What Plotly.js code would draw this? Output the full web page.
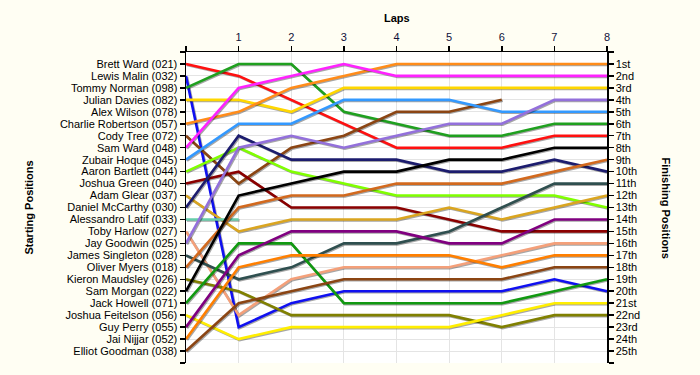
<!DOCTYPE html>
<html>
<head>
<meta charset="utf-8">
<script src="https://cdn.plot.ly/plotly-3.0.1.min.js"></script>
<style>
  html, body { margin: 0; padding: 0; background: #fffef3; }
  #chart { width: 700px; height: 375px; }
  .scatterlayer .trace path.js-line { filter: drop-shadow(1px 1.5px 0.6px rgba(0,0,0,0.35)); }
</style>
</head>
<body>
<div id="chart"></div>
<script>
// ---- Data ----
const laps = [0, 1, 2, 3, 4, 5, 6, 7, 8];

const startingGrid = [
  "Brett Ward (021)", "Lewis Malin (032)", "Tommy Norman (098)", "Julian Davies (082)",
  "Alex Wilson (078)", "Charlie Robertson (057)", "Cody Tree (072)", "Sam Ward (048)",
  "Zubair Hoque (045)", "Aaron Bartlett (044)", "Joshua Green (040)", "Adam Glear (037)",
  "Daniel McCarthy (030)", "Alessandro Latif (033)", "Toby Harlow (027)", "Jay Goodwin (025)",
  "James Singleton (028)", "Oliver Myers (018)", "Kieron Maudsley (026)", "Sam Morgan (022)",
  "Jack Howell (071)", "Joshua Feitelson (056)", "Guy Perry (055)", "Jai Nijjar (052)",
  "Elliot Goodman (038)"
];

const finishingLabels = [
  "1st", "2nd", "3rd", "4th", "5th", "6th", "7th", "8th", "9th", "10th", "11th", "12th",
  "13th", "14th", "15th", "16th", "17th", "18th", "19th", "20th", "21st", "22nd", "23rd",
  "24th", "25th"
];

const lapTickLabels = ["1", "2", "3", "4", "5", "6", "7", "8"];

// positions per lap (lap 0 = grid)
const brettWard        = [1, 2, 4, 6, 8, 8, 8, 7, 7];
const lewisMalin       = [2, 23, 21, 20, 20, 20, 20, 19, 20];
const tommyNorman      = [3, 1, 1, 5, 6, 7, 7, 6, 6];
const julianDavies     = [4, 4, 5, 3, 3, 3, 3, 3, 3];
const alexWilson       = [];
const charlieRobertson = [6, 5, 3, 2, 1, 1, 1, 1, 1];
const codyTree         = [7, 11, 8, 7, 5, 5, 4];
const samWard          = [8, 3, 2, 1, 2, 2, 2, 2, 2];
const zubairHoque      = [9, 6, 6, 4, 4, 4, 5, 5, 5];
const aaronBartlett    = [10, 8, 10, 11, 12, 12, 12, 12, 13];
const joshuaGreen      = [11, 10, 13, 13, 13, 14, 15, 15, 15];
const adamGlear        = [12, 15, 14, 14, 14, 13, 14, 13, 12];
const danielMcCarthy   = [13, 7, 9, 9, 9, 10, 10, 9, 10];
const alessandroLatif  = [14, 14];
const tobyHarlow       = [15, 22, 19, 18, 18, 18, 17, 16, 16];
const jayGoodwin       = [16, 8, 7, 8, 7, 6, 6, 4, 4];
const jamesSingleton   = [17, 19, 18, 16, 16, 15, 13, 11, 11];
const oliverMyers      = [18, 13, 12, 12, 11, 11, 11, 10, 9];
const kieronMaudsley   = [19, 20, 22, 22, 22, 22, 23, 22, 22];
const samMorgan        = [20, 12, 11, 10, 10, 9, 9, 8, 8];
const jackHowell       = [21, 16, 16, 21, 21, 21, 21, 20, 19];
const joshuaFeitelson  = [22, 24, 23, 23, 23, 23, 22, 21, 21];
const guyPerry         = [23, 17, 15, 15, 15, 16, 16, 14, 14];
const jaiNijjar        = [24, 18, 17, 17, 17, 17, 18, 17, 17];
const elliotGoodman    = [25, 21, 20, 19, 19, 19, 19, 18, 18];

const driverSeries = [
  brettWard, lewisMalin, tommyNorman, julianDavies, alexWilson, charlieRobertson,
  codyTree, samWard, zubairHoque, aaronBartlett, joshuaGreen, adamGlear,
  danielMcCarthy, alessandroLatif, tobyHarlow, jayGoodwin, jamesSingleton, oliverMyers,
  kieronMaudsley, samMorgan, jackHowell, joshuaFeitelson, guyPerry, jaiNijjar, elliotGoodman
];

const driverColors = [
  "#ff1010", "#1010f0", "#1fa01f", "#ffd700", "#808080", "#ff8c1a",
  "#8b4513", "#ff22ff", "#3399ff", "#80ff00", "#8b0000", "#daa520",
  "#1c1c6e", "#66cdaa", "#f4a07a", "#9370db", "#2f4f4f", "#d2691e",
  "#808000", "#000000", "#119911", "#ffee00", "#800080", "#ff7f00", "#8b4513"
];

// ---- Traces ----
const traces = [];
driverSeries.forEach((pos, i) => {
  if (!pos.length) return;
  traces.push({
    type: "scatter",
    mode: "lines",
    name: startingGrid[i],
    x: laps.slice(0, pos.length),
    y: pos,
    xaxis: "x",
    yaxis: "y",
    line: { color: driverColors[i], width: 2.6 },
    hoverinfo: "name+y",
    showlegend: false
  });
});

// invisible trace to carry the right-hand (finishing) axis
const finalLap = laps[laps.length - 1];
const finishers = driverSeries.filter(p => p.length === laps.length);
traces.push({
  type: "scatter",
  mode: "markers",
  x: finishers.map(() => finalLap),
  y: finishers.map(p => p[p.length - 1]),
  xaxis: "x",
  yaxis: "y2",
  marker: { opacity: 0, size: 1 },
  hoverinfo: "skip",
  showlegend: false
});

const nPos = startingGrid.length;
const posTicks = [];
for (let k = 0; k <= nPos + 1; k++) posTicks.push(k);

const fontFam = "Liberation Sans, Arial, sans-serif";

const layout = {
  width: 700,
  height: 375,
  paper_bgcolor: "#fffef3",
  plot_bgcolor: "#ffffff",
  margin: { l: 186, r: 93, t: 52, b: 12, pad: 0 },
  font: { family: fontFam, size: 11, color: "#000000" },
  showlegend: false,
  xaxis: {
    side: "top",
    range: [0, 8],
    tickmode: "array",
    tickvals: laps,
    ticktext: [""].concat(lapTickLabels),
    ticks: "outside",
    ticklen: 5,
    tickwidth: 1.5,
    tickcolor: "#000000",
    tickfont: { family: fontFam, size: 11, color: "#10103a" },
    showline: true,
    linecolor: "#000000",
    linewidth: 1.5,
    mirror: false,
    showgrid: true,
    gridcolor: "#e4e4e4",
    gridwidth: 1,
    zeroline: false,
    fixedrange: true
  },
  yaxis: {
    range: [nPos + 1, 0],
    tickmode: "array",
    tickvals: posTicks,
    ticktext: [""].concat(startingGrid, [""]),
    ticks: "outside",
    ticklen: 5,
    tickwidth: 1.5,
    tickcolor: "#000000",
    tickfont: { family: fontFam, size: 11, color: "#000000" },
    showline: true,
    linecolor: "#000000",
    linewidth: 1.5,
    showgrid: true,
    gridcolor: "#e4e4e4",
    gridwidth: 1,
    zeroline: false,
    fixedrange: true
  },
  yaxis2: {
    overlaying: "y",
    side: "right",
    range: [nPos + 1, 0],
    tickmode: "array",
    tickvals: posTicks,
    ticktext: [""].concat(finishingLabels, [""]),
    ticks: "outside",
    ticklen: 5,
    tickwidth: 1.5,
    tickcolor: "#000000",
    tickfont: { family: fontFam, size: 11, color: "#000000" },
    showline: true,
    linecolor: "#000000",
    linewidth: 1.5,
    showgrid: false,
    zeroline: false,
    fixedrange: true
  },
  annotations: [
    {
      text: "<b>Laps</b>", xref: "paper", yref: "paper",
      x: 0.5, y: 1 + 34 / 311, xanchor: "center", yanchor: "middle",
      showarrow: false, font: { family: fontFam, size: 11, color: "#000000" }
    },
    {
      text: "<b>Starting Positions</b>", xref: "paper", yref: "paper",
      x: (28 - 186) / 421, y: 0.5, xanchor: "center", yanchor: "middle",
      textangle: -90, showarrow: false,
      font: { family: fontFam, size: 11, color: "#000000" }
    },
    {
      text: "<b>Finishing Positions</b>", xref: "paper", yref: "paper",
      x: (666 - 186) / 421, y: 0.5, xanchor: "center", yanchor: "middle",
      textangle: 90, showarrow: false,
      font: { family: fontFam, size: 11, color: "#000000" }
    }
  ]
};

Plotly.newPlot("chart", traces, layout, { displayModeBar: false, staticPlot: true });
</script>
</body>
</html>
